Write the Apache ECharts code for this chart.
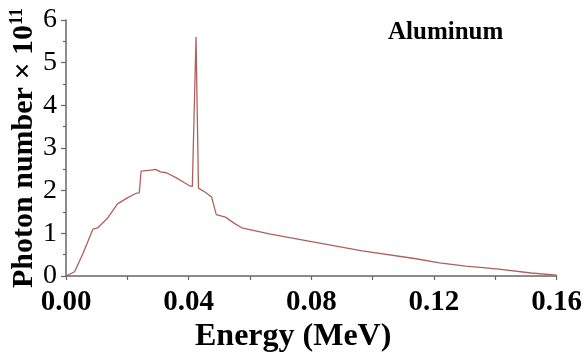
<!DOCTYPE html>
<html>
<head>
<meta charset="utf-8">
<script src="https://cdn.jsdelivr.net/npm/echarts@6/dist/echarts.min.js"></script>
<style>
  html, body { margin: 0; padding: 0; background: #fff; }
  #chart { width: 585px; height: 363px; }
</style>
</head>
<body>
<div id="chart"></div>
<script>
// energy (MeV) and photon number (x 10^11)
var energy = [0, 0.0028, 0.0056, 0.0088, 0.0104, 0.0136, 0.0168, 0.02, 0.0229, 0.0239,
    0.0245, 0.0276, 0.0292, 0.0308, 0.0327, 0.036, 0.0388, 0.0404, 0.0412, 0.0424,
    0.0432, 0.0453, 0.0475, 0.0490, 0.0520, 0.0548, 0.0573, 0.0667, 0.0805, 0.0966,
    0.1136, 0.1218, 0.1304, 0.1369, 0.1411, 0.1517, 0.16];
var photons = [0, 0.1, 0.54, 1.1, 1.13, 1.36, 1.69, 1.83, 1.94, 1.95,
    2.46, 2.48, 2.5, 2.44, 2.42, 2.3, 2.18, 2.11, 2.1, 5.6,
    2.06, 1.97, 1.85, 1.44, 1.38, 1.24, 1.13, 0.98, 0.80, 0.59,
    0.41, 0.31, 0.23, 0.19, 0.16, 0.07, 0.02];
var xTicks = [0, 0.04, 0.08, 0.12, 0.16];
var sampleName = 'Aluminum';

var chart = echarts.init(document.getElementById('chart'));

var pts = [];
for (var i = 0; i < energy.length; i++) {
    pts.push([energy[i], photons[i]]);
}

var axisColor = '#666';
var font = '"Liberation Serif", "Times New Roman", serif';

var option = {
    backgroundColor: '#fff',
    animation: false,
    grid: { left: 66, right: 26, top: 20, bottom: 87, containLabel: false },
    xAxis: {
        type: 'value',
        min: xTicks[0],
        max: xTicks[xTicks.length - 1],
        interval: 0.04,
        splitLine: { show: false },
        axisLine: { lineStyle: { color: axisColor, width: 1.5 } },
        axisTick: { show: true, length: 4, lineStyle: { color: axisColor, width: 1.2 } },
        minorTick: { show: true, splitNumber: 2, length: 4, lineStyle: { color: axisColor, width: 1.2 } },
        axisLabel: {
            margin: 12,
            color: '#000',
            fontFamily: font,
            fontWeight: 'bold',
            fontSize: 29,
            formatter: function (v) { return v.toFixed(2); }
        }
    },
    yAxis: {
        type: 'value',
        min: 0,
        max: 6,
        interval: 1,
        splitLine: { show: false },
        axisLine: { show: true, lineStyle: { color: axisColor, width: 1.5 } },
        axisTick: { show: true, length: 5, lineStyle: { color: axisColor, width: 1.2 } },
        minorTick: { show: true, splitNumber: 2, length: 3, lineStyle: { color: axisColor, width: 1.2 } },
        axisLabel: {
            margin: 9,
            color: '#000',
            fontFamily: font,
            fontSize: 28
        }
    },
    graphic: [
        {
            type: 'text',
            left: 195,
            top: 321,
            style: {
                text: 'Energy (MeV)',
                fill: '#000',
                font: 'bold 32px ' + font
            }
        },
        {
            type: 'text',
            x: 24,
            y: 148,
            rotation: Math.PI / 2,
            style: {
                text: 'Photon number × 10{sup|11}',
                fill: '#000',
                font: 'bold 30px ' + font,
                align: 'center',
                verticalAlign: 'middle',
                rich: {
                    sup: {
                        fontFamily: font,
                        fontWeight: 'bold',
                        fontSize: 18,
                        padding: [0, 0, 14, 0]
                    }
                }
            }
        },
        {
            type: 'text',
            left: 388,
            top: 20,
            style: {
                text: sampleName,
                fill: '#000',
                font: 'bold 25px ' + font
            }
        }
    ],
    series: [{
        type: 'line',
        data: pts,
        showSymbol: false,
        lineStyle: { color: '#b0605c', width: 1.3 }
    }]
};
chart.setOption(option);
</script>
</body>
</html>
